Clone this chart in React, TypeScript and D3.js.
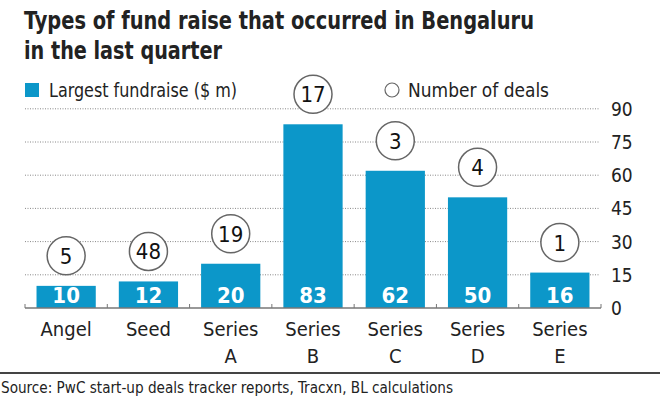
import React, { useEffect, useRef } from "react";
import * as d3 from "d3";

const categories = ["Angel", "Seed", "Series A", "Series B", "Series C", "Series D", "Series E"];
const fundraise = [10, 12, 20, 83, 62, 50, 16];
const deals = [5, 48, 19, 17, 3, 4, 1];
const yTicks = [0, 15, 30, 45, 60, 75, 90];

const W = 660;
const H = 399;
const BLUE = "#0c97c9";
const FONT = "'Liberation Sans Narrow', 'DejaVu Sans Condensed', 'Roboto', sans-serif";

export default function App() {
  const ref = useRef<SVGSVGElement>(null);

  useEffect(() => {
    const svg = d3.select(ref.current);
    svg.selectAll("*").remove();

    const x = d3.scaleBand<string>().domain(categories).range([25, 601]).paddingInner(0.28).paddingOuter(0.14);
    const y = d3.scaleLinear().domain([0, 90]).range([308, 108.8]);

    // title
    svg.append("text").attr("x", 24).attr("y", 29).attr("font-family", FONT).attr("font-weight", "bold")
      .attr("font-size", 25).attr("fill", "#222")
      .attr("textLength", 510).attr("lengthAdjust", "spacingAndGlyphs")
      .text("Types of fund raise that occurred in Bengaluru");
    svg.append("text").attr("x", 24).attr("y", 59).attr("font-family", FONT).attr("font-weight", "bold")
      .attr("font-size", 25).attr("fill", "#222")
      .attr("textLength", 198).attr("lengthAdjust", "spacingAndGlyphs")
      .text("in the last quarter");

    // legend
    svg.append("rect").attr("x", 25).attr("y", 83).attr("width", 14).attr("height", 14).attr("fill", BLUE);
    svg.append("text").attr("x", 49).attr("y", 97).attr("font-family", FONT).attr("font-size", 20)
      .attr("fill", "#222").attr("textLength", 188).attr("lengthAdjust", "spacingAndGlyphs")
      .text("Largest fundraise ($ m)");
    svg.append("circle").attr("cx", 392).attr("cy", 90).attr("r", 7).attr("fill", "none")
      .attr("stroke", "#666").attr("stroke-width", 1.2);
    svg.append("text").attr("x", 408).attr("y", 97).attr("font-family", FONT).attr("font-size", 20)
      .attr("fill", "#222").attr("textLength", 141).attr("lengthAdjust", "spacingAndGlyphs")
      .text("Number of deals");

    // gridlines
    svg.append("g").selectAll("line").data(yTicks.filter(t => t > 0)).enter().append("line")
      .attr("x1", 25).attr("x2", 600)
      .attr("y1", d => y(d)).attr("y2", d => y(d))
      .attr("stroke", "#888").attr("stroke-width", 1).attr("stroke-dasharray", "1,1.5");

    // right axis labels
    svg.append("g").selectAll("text").data(yTicks).enter().append("text")
      .attr("x", 611).attr("y", d => y(d) + 7)
      .attr("font-family", FONT).attr("font-size", 19).attr("fill", "#222")
      .text(d => d);

    // bars
    svg.append("g").selectAll("rect").data(fundraise).enter().append("rect")
      .attr("x", (d, i) => x(categories[i])!)
      .attr("y", d => y(d))
      .attr("width", x.bandwidth())
      .attr("height", d => y(0) - y(d))
      .attr("fill", BLUE);

    // value labels
    svg.append("g").selectAll("text").data(fundraise).enter().append("text")
      .attr("x", (d, i) => x(categories[i])! + x.bandwidth() / 2)
      .attr("y", 303)
      .attr("text-anchor", "middle")
      .attr("font-family", FONT).attr("font-weight", "bold").attr("font-size", 22).attr("fill", "#fff")
      .text(d => d);

    // baseline + ticks
    svg.append("line").attr("x1", 25).attr("x2", 601).attr("y1", 308).attr("y2", 308)
      .attr("stroke", "#777").attr("stroke-width", 1.5);
    const edges = categories.map(c => x(c)! - (x.step() - x.bandwidth()) / 2);
    edges.push(601);
    svg.append("g").selectAll("line").data(edges).enter().append("line")
      .attr("x1", d => d).attr("x2", d => d).attr("y1", 308).attr("y2", 304)
      .attr("stroke", "#777").attr("stroke-width", 1);

    // deal circles
    const g = svg.append("g").selectAll("g").data(deals).enter().append("g")
      .attr("transform", (d, i) => `translate(${x(categories[i])! + x.bandwidth() / 2},${y(fundraise[i]) - 30})`);
    g.append("circle").attr("r", 19).attr("fill", "#fff").attr("stroke", "#666").attr("stroke-width", 1.5);
    g.append("text").attr("y", 8).attr("text-anchor", "middle")
      .attr("font-family", FONT).attr("font-size", 22).attr("fill", "#111").text(d => d);

    // category labels
    const cl = svg.append("g").selectAll("text").data(categories).enter().append("text")
      .attr("text-anchor", "middle")
      .attr("font-family", FONT).attr("font-size", 20).attr("fill", "#222");
    cl.each(function (c) {
      const t = d3.select(this);
      const cx = x(c)! + x.bandwidth() / 2;
      const parts = c.split(" ");
      parts.forEach((p, k) => {
        t.append("tspan").attr("x", cx).attr("y", 336 + k * 27).text(p);
      });
    });

    // separator and source
    svg.append("line").attr("x1", 0).attr("x2", W).attr("y1", 373).attr("y2", 373)
      .attr("stroke", "#444").attr("stroke-width", 2);
    svg.append("text").attr("x", 1).attr("y", 393).attr("font-family", FONT).attr("font-size", 16)
      .attr("fill", "#222").attr("textLength", 452).attr("lengthAdjust", "spacingAndGlyphs")
      .text("Source: PwC start-up deals tracker reports, Tracxn, BL calculations");
  }, []);

  return (
    <svg ref={ref} width={W} height={H} style={{ position: "absolute", left: 0, top: 0, background: "#fff" }} />
  );
}
